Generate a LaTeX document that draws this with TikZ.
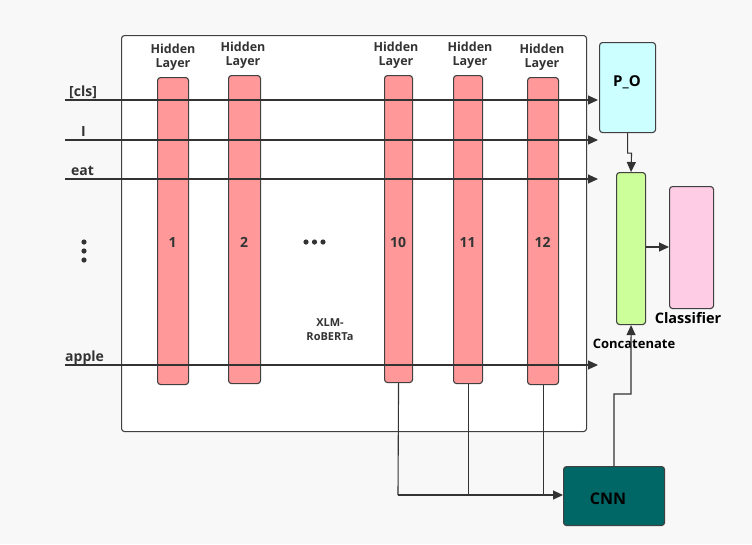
\documentclass[tikz,border=0pt]{standalone}
\usepackage{fontspec}
\setmainfont{Open Sans}
\usetikzlibrary{arrows.meta}
\definecolor{bg}{HTML}{F8F8F8}
\definecolor{edge}{HTML}{404040}
\definecolor{ink}{HTML}{333333}
\definecolor{layerfill}{HTML}{FF9999}
\definecolor{pofill}{HTML}{CCFFFF}
\definecolor{catfill}{HTML}{CCFF99}
\definecolor{clsfill}{HTML}{FFCCE6}
\definecolor{cnnfill}{HTML}{006666}
\tikzset{
  box/.style={draw=edge, line width=1.1pt, rounded corners=3pt, inner sep=0pt},
  layerbox/.style={box, fill=layerfill},
  wire/.style={draw=ink, line width=1.1pt},
  arr/.style={wire, -{Triangle[length=10pt,width=9pt]}},
  lbl/.style={text=ink, font=\bfseries\fontsize{12.5}{14}\selectfont, align=center, inner sep=0pt},
  tok/.style={text=ink, font=\bfseries\fontsize{14}{16}\selectfont, inner sep=0pt, anchor=base west},
  num/.style={text=ink, font=\bfseries\fontsize{14}{16}\selectfont, inner sep=0pt},
  dot/.style={fill=ink},
}
\begin{document}
\begin{tikzpicture}[x=1pt,y=-1pt]
\useasboundingbox (0,0) rectangle (752,544);
\fill[bg] (0,0) rectangle (752,544);

% XLM-RoBERTa encoder frame
\node[box, fill=white, minimum width=465pt, minimum height=396pt, anchor=north west] (enc) at (121,35) {};

% hidden layers
\foreach \n/\xl/\xr/\yt/\yb in {1/157/188/77/384, 2/228/260/75/383, 10/384/412/75/382, 11/453/482/75/383, 12/527/558/77/384}{
  \node[layerbox, minimum width={\xr-\xl}, minimum height={\yb-\yt}, anchor=north west] (L\n) at (\xl,\yt) {};
  \node[num] (N\n) at ({(\xl+\xr)/2},242) {\n};
}
\node[lbl] (H1) at (173,57) {Hidden\\Layer};
\node[lbl] (H2) at (243,55) {Hidden\\Layer};
\node[lbl] (H10) at (396,55) {Hidden\\Layer};
\node[lbl] (H11) at (470,55) {Hidden\\Layer};
\node[lbl] (H12) at (542,57) {Hidden\\Layer};

% elided layers
\foreach \x in {306,314.5,323} \fill[dot] (\x,242) circle (2.6pt);
\node[lbl, font=\bfseries\fontsize{11}{14}\selectfont] (xlm) at (330,330) {XLM-\\RoBERTa};

% right-hand blocks
\node[box, fill=pofill, minimum width=56pt, minimum height=90pt, anchor=north west] (po) at (599,42) {};
\node[text=black, font=\bfseries\fontsize{15}{17}\selectfont, inner sep=0pt] (potext) at (627,82) {P\_O};
\node[box, fill=catfill, minimum width=29pt, minimum height=152pt, anchor=north west] (cat) at (616,172) {};
\node[box, fill=clsfill, minimum width=44pt, minimum height=122pt, anchor=north west] (clf) at (669,186) {};
\node[box, fill=cnnfill, minimum width=101pt, minimum height=59pt, anchor=north west] (cnn) at (563,466) {};
\node[text=black, font=\bfseries\fontsize{16}{18}\selectfont, inner sep=0pt] (cnntext) at (608,499) {CNN};
\node[text=black, font=\bfseries\fontsize{14.5}{16}\selectfont, inner sep=0pt] (clftext) at (688,318) {Classifier};
\node[text=black, font=\bfseries\fontsize{13}{15}\selectfont, inner sep=0pt] (cattext) at (634,344) {Concatenate};

% token inputs
\coordinate (t1) at (65,100);
\coordinate (t2) at (65,140);
\coordinate (t3) at (65,179);
\coordinate (t4) at (65,365);
\coordinate (e1) at (598,100);
\coordinate (e2) at (598,140);
\coordinate (e3) at (598,179);
\coordinate (e4) at (598,365);
\draw[arr] (t1) -- (e1);
\draw[arr] (t2) -- (e2);
\draw[arr] (t3) -- (e3);
\draw[arr] (t4) -- (e4);
\node[tok] (cls) at (69,96) {[cls]};
\node[tok] (tI) at (81,136) {I};
\node[tok] (teat) at (71,175) {eat};
\node[tok] (tapple) at (65,361) {apple};
\foreach \y in {242,251,260} \fill[dot] (84,\y) circle (2.6pt);

% layer outputs into the CNN
\coordinate (j) at (398,495);
\draw[wire] (L10.south) -- (j);
\draw[wire] (L11.south) -- (L11.south |- j);
\draw[wire] (L12.south) -- (L12.south |- j);
\draw[arr] (j) -- (cnn.west |- j);

% P_O and CNN into the concatenation, then to the classifier
\draw[arr] (po.south) ++(0,0) -- ++(0,20) -- ++(4,0) -- (cat.north);
\draw[arr] (cnn.north west) ++(51,0) |- (631,394) -- (cat.south);
\draw[arr] (cat.east |- 0,247) -- (clf.west |- 0,247);
\end{tikzpicture}
\end{document}
